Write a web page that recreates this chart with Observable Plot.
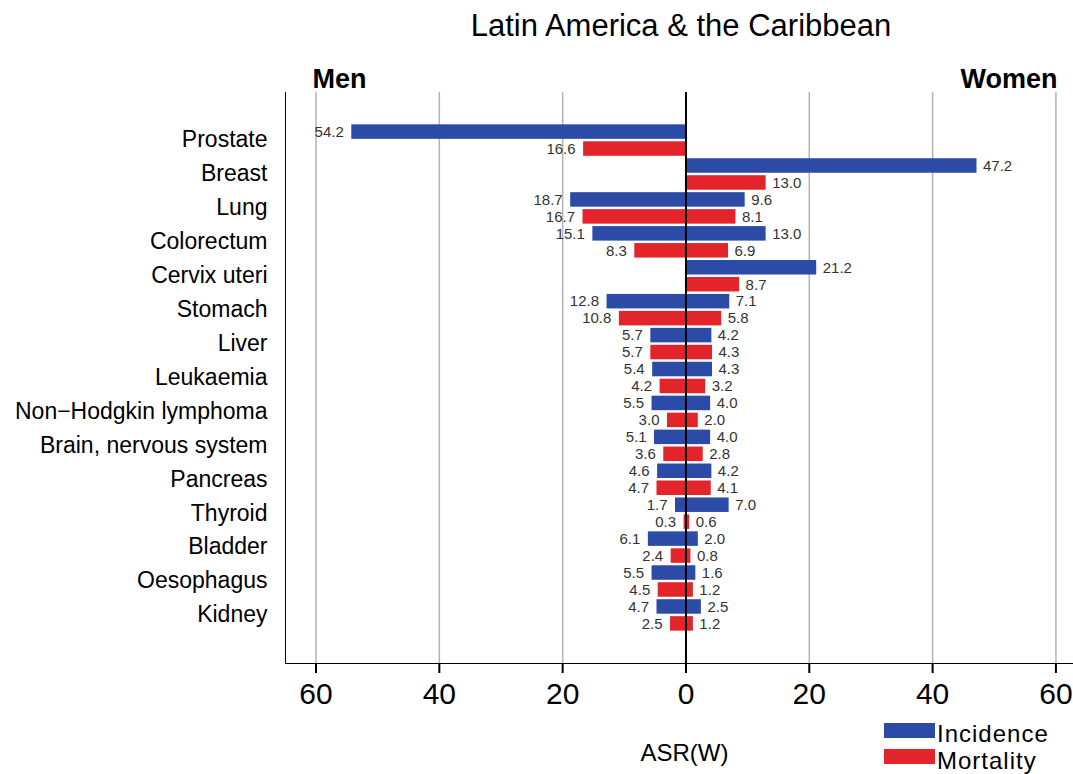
<!DOCTYPE html>
<html><head><meta charset="utf-8">
<script src="https://cdn.jsdelivr.net/npm/d3@7"></script>
<script src="https://cdn.jsdelivr.net/npm/@observablehq/plot@0.6"></script>
<style>
body{margin:0;background:#fff;font-family:"Liberation Sans",Arial,sans-serif;}
#wrap{position:relative;width:1073px;height:774px;overflow:hidden;background:#fff;}
#title{position:absolute;top:10px;left:681px;transform:translateX(-50%);font-size:31px;line-height:31px;white-space:nowrap;color:#000;}
#chart{position:absolute;top:52px;left:0;}
#chart svg path.domain, #chart svg [aria-label*="axis"] path{stroke-width:2px;}
.leg-swatch{position:absolute;width:51px;height:15px;}
.leg-text{position:absolute;font-size:24px;line-height:27px;letter-spacing:1px;white-space:nowrap;color:#000;}
</style></head>
<body><div id="wrap"><div id="title"></div><div id="chart"></div><div id="legend"></div></div>
<script>
const titleText = "Latin America & the Caribbean";
const sexes = ["Men", "Women"];
const measures = ["Incidence", "Mortality"];
const colors = ["#2b4ba6", "#e3242b"];
const axisLabel = "ASR(W)";
const xTicks = [-60, -40, -20, 0, 20, 40, 60];
const gridTicks = [-60, -40, -20, 20, 40, 60];

const categories = ["Prostate", "Breast", "Lung", "Colorectum", "Cervix uteri", "Stomach", "Liver",
  "Leukaemia", "Non\u2212Hodgkin lymphoma", "Brain, nervous system", "Pancreas", "Thyroid",
  "Bladder", "Oesophagus", "Kidney"];
const menIncidence   = [54.2, null, 18.7, 15.1, null, 12.8, 5.7, 5.4, 5.5, 5.1, 4.6, 1.7, 6.1, 5.5, 4.7];
const menMortality   = [16.6, null, 16.7, 8.3, null, 10.8, 5.7, 4.2, 3.0, 3.6, 4.7, 0.3, 2.4, 4.5, 2.5];
const womenIncidence = [null, 47.2, 9.6, 13.0, 21.2, 7.1, 4.2, 4.3, 4.0, 4.0, 4.2, 7.0, 2.0, 1.6, 2.5];
const womenMortality = [null, 13.0, 8.1, 6.9, 8.7, 5.8, 4.3, 3.2, 2.0, 2.8, 4.1, 0.6, 0.8, 1.2, 1.2];

const series = [
  {sex: "Men", measure: "Incidence", values: menIncidence},
  {sex: "Men", measure: "Mortality", values: menMortality},
  {sex: "Women", measure: "Incidence", values: womenIncidence},
  {sex: "Women", measure: "Mortality", values: womenMortality}
];
const keyOf = (c, m) => c + "|" + m;
const rows = [];
for (const s of series) {
  s.values.forEach((v, i) => {
    if (v == null) return;
    rows.push({category: categories[i], sex: s.sex, measure: s.measure, value: v,
      signed: s.sex === "Men" ? -v : v, key: keyOf(categories[i], s.measure)});
  });
}
const yDomain = categories.flatMap(c => measures.map(m => keyOf(c, m)));
const catRows = categories.map(c => ({category: c, key: keyOf(c, measures[0])}));
const menRows = rows.filter(d => d.sex === "Men");
const womenRows = rows.filter(d => d.sex === "Women");

document.getElementById("title").textContent = titleText;

const chart = Plot.plot({
  width: 1073,
  height: 722,
  marginLeft: 285,
  marginRight: 0,
  marginTop: 40,
  marginBottom: 111,
  style: {fontFamily: "Liberation Sans, Arial, sans-serif", fontSize: "30px", background: "white", color: "black", overflow: "visible"},
  x: {domain: [-64.95, 62.85], ticks: xTicks, tickFormat: d => Math.abs(d), tickSize: 10, tickPadding: 9, line: true, label: null},
  y: {domain: yDomain, paddingInner: 0.145, paddingOuter: 1.907, round: false, tickSize: 0, tickFormat: () => "", line: true, label: null},
  color: {domain: measures, range: colors},
  marks: [
    Plot.ruleX(gridTicks, {stroke: "#b3b3b3", strokeWidth: 1.5}),
    Plot.barX(rows, {x: "signed", y: "key", fill: "measure"}),
    Plot.ruleX([0], {stroke: "black", strokeWidth: 2}),
    Plot.text(menRows, {x: "signed", y: "key", text: d => d.value.toFixed(1), textAnchor: "end", dx: -8, fontSize: 15, fill: "#333"}),
    Plot.text(womenRows, {x: "signed", y: "key", text: d => d.value.toFixed(1), textAnchor: "start", dx: 6, fontSize: 15, fill: "#333"}),
    Plot.text(catRows, {y: "key", text: "category", frameAnchor: "left", textAnchor: "end", lineAnchor: "middle", dx: -18, dy: 8, fontSize: 23, fill: "black"}),
    Plot.text([sexes[0]], {text: d => d, frameAnchor: "top-left", textAnchor: "start", lineAnchor: "bottom", dx: 27, dy: -5, fontSize: 27, fontWeight: "bold", fill: "black"}),
    Plot.text([sexes[1]], {text: d => d, frameAnchor: "top-right", textAnchor: "end", lineAnchor: "bottom", dx: -16, dy: -5, fontSize: 27, fontWeight: "bold", fill: "black"}),
    Plot.text([axisLabel], {text: d => d, frameAnchor: "bottom", lineAnchor: "bottom", dx: 5, dy: 97, fontSize: 24, fill: "black"})
  ]
});
document.getElementById("chart").appendChild(chart);

const legend = document.getElementById("legend");
measures.forEach((m, i) => {
  const sw = document.createElement("div");
  sw.className = "leg-swatch";
  sw.style.left = "884px";
  sw.style.top = (723 + i * 26) + "px";
  sw.style.background = colors[i];
  legend.appendChild(sw);
  const tx = document.createElement("div");
  tx.className = "leg-text";
  tx.style.left = "937px";
  tx.style.top = (720 + i * 27) + "px";
  tx.textContent = m;
  legend.appendChild(tx);
});
</script>
</body></html>
